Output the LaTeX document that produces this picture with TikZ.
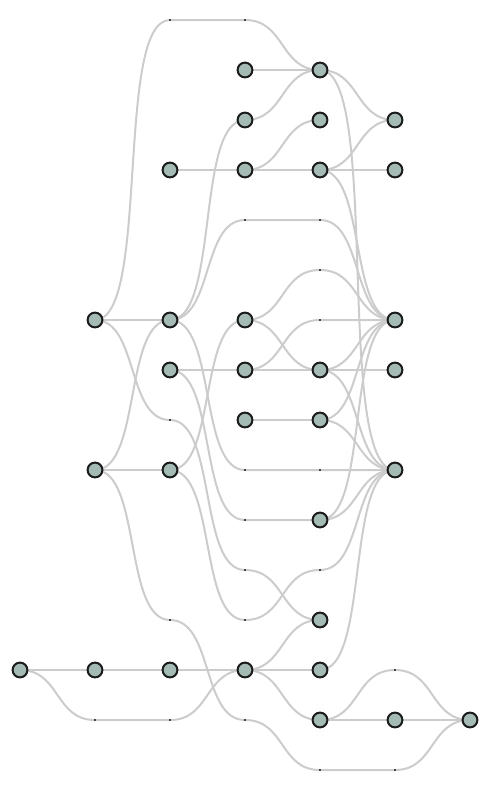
\documentclass[tikz,border=0pt]{standalone}
\usetikzlibrary{backgrounds,calc}
\definecolor{nodefill}{RGB}{164,186,181}
\definecolor{nodeline}{RGB}{28,28,28}
\definecolor{edgecol}{RGB}{204,204,204}
\definecolor{dotcol}{RGB}{70,70,70}
\begin{document}
\begin{tikzpicture}[x=1pt,y=-1pt,
  vertex/.style={circle,draw=nodeline,fill=nodefill,line width=2pt,minimum size=14.8pt,inner sep=0pt},
  dpoint/.style={rectangle,fill=dotcol,minimum size=1.7pt,inner sep=0pt},
  edgeline/.style={draw=edgecol,line width=2pt},
  sbend/.style={to path={let \p1=($(\tikztotarget)-(\tikztostart)$), \n1={37.5pt+0.06*abs(\y1)} in .. controls +(\n1,0) and +(-\n1,0) .. (\tikztotarget)}}]
\useasboundingbox (0,0) rectangle (490,790);
% real nodes
\node[vertex] (c3r1) at (245,70) {};
\node[vertex] (c4r1) at (320,70) {};
\node[vertex] (c3r2) at (245,120) {};
\node[vertex] (c4r2) at (320,120) {};
\node[vertex] (c5r2) at (395,120) {};
\node[vertex] (c2r3) at (170,170) {};
\node[vertex] (c3r3) at (245,170) {};
\node[vertex] (c4r3) at (320,170) {};
\node[vertex] (c5r3) at (395,170) {};
\node[vertex] (c1r6) at (95,320) {};
\node[vertex] (c2r6) at (170,320) {};
\node[vertex] (c3r6) at (245,320) {};
\node[vertex] (c5r6) at (395,320) {};
\node[vertex] (c2r7) at (170,370) {};
\node[vertex] (c3r7) at (245,370) {};
\node[vertex] (c4r7) at (320,370) {};
\node[vertex] (c5r7) at (395,370) {};
\node[vertex] (c3r8) at (245,420) {};
\node[vertex] (c4r8) at (320,420) {};
\node[vertex] (c1r9) at (95,470) {};
\node[vertex] (c2r9) at (170,470) {};
\node[vertex] (c5r9) at (395,470) {};
\node[vertex] (c4r10) at (320,520) {};
\node[vertex] (c4r12) at (320,620) {};
\node[vertex] (c0r13) at (20,670) {};
\node[vertex] (c1r13) at (95,670) {};
\node[vertex] (c2r13) at (170,670) {};
\node[vertex] (c3r13) at (245,670) {};
\node[vertex] (c4r13) at (320,670) {};
\node[vertex] (c4r14) at (320,720) {};
\node[vertex] (c5r14) at (395,720) {};
\node[vertex] (c6r14) at (470,720) {};
% bend points
\node[dpoint] (d2r0) at (170,20) {};
\node[dpoint] (d3r0) at (245,20) {};
\node[dpoint] (d3r4) at (245,220) {};
\node[dpoint] (d4r4) at (320,220) {};
\node[dpoint] (d4r5) at (320,270) {};
\node[dpoint] (d4r6) at (320,320) {};
\node[dpoint] (d2r8) at (170,420) {};
\node[dpoint] (d3r9) at (245,470) {};
\node[dpoint] (d4r9) at (320,470) {};
\node[dpoint] (d3r10) at (245,520) {};
\node[dpoint] (d3r11) at (245,570) {};
\node[dpoint] (d4r11) at (320,570) {};
\node[dpoint] (d2r12) at (170,620) {};
\node[dpoint] (d3r12) at (245,620) {};
\node[dpoint] (d1r14) at (95,720) {};
\node[dpoint] (d2r14) at (170,720) {};
\node[dpoint] (d3r14) at (245,720) {};
\node[dpoint] (d5r13) at (395,670) {};
\node[dpoint] (d4r15) at (320,770) {};
\node[dpoint] (d5r15) at (395,770) {};
\begin{scope}[on background layer]
\draw[edgeline] (c1r6.center) to[sbend] (d2r0.center) to[sbend] (d3r0.center) to[sbend] (c4r1.center);
\draw[edgeline] (c3r1.center) to[sbend] (c4r1.center);
\draw[edgeline] (c3r2.center) to[sbend] (c4r1.center);
\draw[edgeline] (c2r3.center) to[sbend] (c3r3.center);
\draw[edgeline] (c3r3.center) to[sbend] (c4r2.center);
\draw[edgeline] (c3r3.center) to[sbend] (c4r3.center);
\draw[edgeline] (c4r1.center) to[sbend] (c5r2.center);
\draw[edgeline] (c4r3.center) to[sbend] (c5r2.center);
\draw[edgeline] (c4r3.center) to[sbend] (c5r3.center);
\draw[edgeline] (c4r1.center) to[sbend] (c5r9.center);
\draw[edgeline] (c4r3.center) to[sbend] (c5r6.center);
\draw[edgeline] (c2r6.center) to[sbend] (c3r2.center);
\draw[edgeline] (c2r6.center) to[sbend] (d3r4.center) to[sbend] (d4r4.center) to[sbend] (c5r6.center);
\draw[edgeline] (c3r6.center) to[sbend] (d4r5.center) to[sbend] (c5r6.center);
\draw[edgeline] (c3r7.center) to[sbend] (d4r6.center) to[sbend] (c5r6.center);
\draw[edgeline] (c3r6.center) to[sbend] (c4r7.center);
\draw[edgeline] (c2r7.center) to[sbend] (c3r7.center);
\draw[edgeline] (c3r7.center) to[sbend] (c4r7.center);
\draw[edgeline] (c4r7.center) to[sbend] (c5r7.center);
\draw[edgeline] (c4r7.center) to[sbend] (c5r6.center);
\draw[edgeline] (c4r7.center) to[sbend] (c5r9.center);
\draw[edgeline] (c1r6.center) to[sbend] (c2r6.center);
\draw[edgeline] (c1r6.center) to[sbend] (d2r8.center) to[sbend] (d3r11.center) to[sbend] (c4r12.center);
\draw[edgeline] (c1r9.center) to[sbend] (c2r6.center);
\draw[edgeline] (c1r9.center) to[sbend] (c2r9.center);
\draw[edgeline] (c1r9.center) to[sbend] (d2r12.center) to[sbend] (d3r14.center) to[sbend] (d4r15.center) to[sbend] (d5r15.center) to[sbend] (c6r14.center);
\draw[edgeline] (c2r9.center) to[sbend] (c3r6.center);
\draw[edgeline] (c2r6.center) to[sbend] (d3r9.center) to[sbend] (d4r9.center) to[sbend] (c5r9.center);
\draw[edgeline] (c2r7.center) to[sbend] (d3r10.center) to[sbend] (c4r10.center);
\draw[edgeline] (c2r9.center) to[sbend] (d3r12.center) to[sbend] (d4r11.center) to[sbend] (c5r9.center);
\draw[edgeline] (c3r8.center) to[sbend] (c4r8.center);
\draw[edgeline] (c4r8.center) to[sbend] (c5r6.center);
\draw[edgeline] (c4r8.center) to[sbend] (c5r9.center);
\draw[edgeline] (c4r10.center) to[sbend] (c5r9.center);
\draw[edgeline] (c4r10.center) to[sbend] (c5r6.center);
\draw[edgeline] (c0r13.center) to[sbend] (c1r13.center) to[sbend] (c2r13.center) to[sbend] (c3r13.center);
\draw[edgeline] (c0r13.center) to[sbend] (d1r14.center) to[sbend] (d2r14.center) to[sbend] (c3r13.center);
\draw[edgeline] (c3r13.center) to[sbend] (c4r12.center);
\draw[edgeline] (c3r13.center) to[sbend] (c4r13.center);
\draw[edgeline] (c3r13.center) to[sbend] (c4r14.center);
\draw[edgeline] (c4r13.center) to[sbend] (c5r9.center);
\draw[edgeline] (c4r14.center) to[sbend] (d5r13.center) to[sbend] (c6r14.center);
\draw[edgeline] (c4r14.center) to[sbend] (c5r14.center) to[sbend] (c6r14.center);
\end{scope}
\end{tikzpicture}
\end{document}
